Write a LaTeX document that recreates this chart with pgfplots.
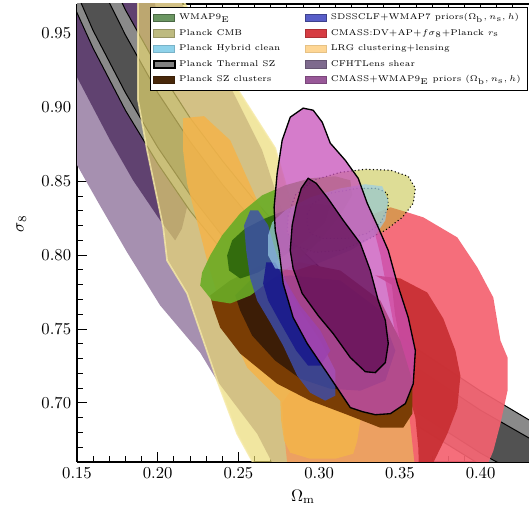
\documentclass[border=0pt]{standalone}
\usepackage{pgfplots}
\pgfplotsset{compat=1.18}
\definecolor{cfhtout}{RGB}{166,144,176}
\definecolor{cfhtin}{RGB}{96,66,112}
\definecolor{szout}{RGB}{138,138,138}
\definecolor{szin}{RGB}{82,82,82}
\definecolor{band}{RGB}{234,218,113}
\definecolor{bandline}{RGB}{246,234,168}
\definecolor{peach}{RGB}{236,160,98}
\definecolor{orng}{RGB}{244,180,74}
\definecolor{pinkout}{RGB}{244,98,112}
\definecolor{redin}{RGB}{200,46,50}
\definecolor{brownout}{RGB}{122,61,4}
\definecolor{brownin}{RGB}{60,29,6}
\definecolor{greenout}{RGB}{106,172,38}
\definecolor{greenin}{RGB}{44,102,10}
\definecolor{blueout}{RGB}{60,78,176}
\definecolor{bluein}{RGB}{26,26,140}
\definecolor{kh}{RGB}{189,187,45}
\definecolor{hyb}{RGB}{155,206,232}
\definecolor{magout}{RGB}{199,80,186}
\definecolor{magin}{RGB}{90,8,78}
% legend colours
\definecolor{lgwmap}{RGB}{107,150,98}
\definecolor{lgcmb}{RGB}{189,186,128}
\definecolor{lghyb}{RGB}{142,210,234}
\definecolor{lgsz}{RGB}{128,128,128}
\definecolor{lgszc}{RGB}{72,40,10}
\definecolor{lgsdss}{RGB}{88,94,200}
\definecolor{lgcmass}{RGB}{214,60,66}
\definecolor{lglrg}{RGB}{254,214,148}
\definecolor{lgcfht}{RGB}{126,106,142}
\definecolor{lgcw}{RGB}{152,88,152}
\begin{document}
\begin{tikzpicture}
\begin{axis}[
  name=ax,
  scale only axis,
  width=271.2pt, height=274.8pt,
  xmin=0.15, xmax=0.43, ymin=0.66, ymax=0.97,
  axis x line*=box, axis y line*=left,
  axis line style={line width=0.9pt,-},
  xtick={0.15,0.20,0.25,0.30,0.35,0.40},
  ytick={0.70,0.75,0.80,0.85,0.90,0.95},
  minor xtick={0.16,0.17,0.18,0.19,0.21,0.22,0.23,0.24,0.26,0.27,0.28,0.29,0.31,0.32,0.33,0.34,0.36,0.37,0.38,0.39,0.41,0.42},
  minor ytick={0.66,0.67,0.68,0.69,0.71,0.72,0.73,0.74,0.76,0.77,0.78,0.79,0.81,0.82,0.83,0.84,0.86,0.87,0.88,0.89,0.91,0.92,0.93,0.94,0.96},
  tick align=inside, major tick length=6pt, minor tick length=3.5pt,
  every tick/.style={black, line width=0.6pt},
  xticklabel style={/pgf/number format/.cd,fixed,fixed zerofill,precision=2},
  yticklabel style={/pgf/number format/.cd,fixed,fixed zerofill,precision=2},
  xlabel={$\Omega_{\rm m}$}, ylabel={$\sigma_8$},
  every axis x label/.style={at={(rel axis cs:0.5,-0.0764)}, anchor=center},
  every axis y label/.style={at={(rel axis cs:-0.1235,0.52)}, anchor=center, rotate=90},
  legend columns=2, legend cell align=left,
  legend image code/.code={\draw[#1] (0pt,-2.2pt) rectangle (12.6pt,2.2pt);},
  legend style={at={(rel axis cs:0.997,0.994)}, anchor=north east, font=\tiny,
     draw=black, line width=0.6pt, fill=white, inner sep=1.8pt, row sep=0.2pt,
     /tikz/every even column/.append style={column sep=13pt}},
  poly/.style={forget plot, draw=none},
]
% CFHTLens outer
\addplot[poly, fill=cfhtout] coordinates {(0.140,0.990)(0.140,0.870)(0.150,0.861)(0.164,0.834)(0.181,0.802)(0.2015,0.766)(0.2263,0.734)(0.2368,0.715)(0.2616,0.6791)(0.2709,0.6595)(0.273,0.650)(0.2815,0.650)(0.2802,0.6595)(0.2821,0.7015)(0.2852,0.7693)(0.2790,0.8236)(0.2647,0.8710)(0.2430,0.9185)(0.2150,0.970)(0.2120,0.990)} -- cycle;
% CFHTLens inner
\addplot[poly, fill=cfhtin] coordinates {(0.140,0.990)(0.140,0.930)(0.150,0.9205)(0.1705,0.8778)(0.1847,0.8507)(0.2015,0.8236)(0.2108,0.810)(0.2150,0.818)(0.2220,0.850)(0.2150,0.880)(0.2090,0.910)(0.2030,0.940)(0.1984,0.970)(0.1960,0.990)} -- cycle;
% Planck thermal SZ outer
\addplot[forget plot, fill=szout, draw=black, line width=0.6pt] coordinates {(0.14,0.990)(0.15,0.964)(0.16,0.940)(0.18,0.898)(0.20,0.862)(0.22,0.830)(0.24,0.803)(0.26,0.778)(0.28,0.756)(0.30,0.736)(0.33,0.709)(0.36,0.685)(0.40,0.658)(0.44,0.634)(0.44,0.682)(0.40,0.708)(0.36,0.737)(0.33,0.763)(0.30,0.792)(0.28,0.813)(0.26,0.837)(0.24,0.864)(0.22,0.893)(0.20,0.927)(0.18,0.966)(0.16,1.012)(0.15,1.037)(0.14,1.066)} -- cycle;
% Planck thermal SZ inner
\addplot[forget plot, fill=szin, draw=black, line width=0.6pt] coordinates {(0.14,1.003)(0.15,0.977)(0.16,0.952)(0.18,0.910)(0.20,0.873)(0.22,0.841)(0.24,0.813)(0.26,0.788)(0.28,0.766)(0.30,0.745)(0.33,0.718)(0.36,0.694)(0.40,0.666)(0.44,0.642)(0.44,0.670)(0.40,0.695)(0.36,0.724)(0.33,0.749)(0.30,0.777)(0.28,0.798)(0.26,0.822)(0.24,0.848)(0.22,0.877)(0.20,0.910)(0.18,0.949)(0.16,0.993)(0.15,1.019)(0.14,1.046)} -- cycle;
% big degeneracy band (translucent)
\addplot[forget plot, fill=band, fill opacity=0.67, draw=bandline, draw opacity=0.8, line width=1pt] coordinates {(0.187,0.990)(0.1878,0.970)(0.1878,0.932)(0.1878,0.905)(0.1934,0.871)(0.2034,0.8188)(0.2058,0.7964)(0.2182,0.7741)(0.2368,0.7151)(0.2492,0.6791)(0.2591,0.6595)(0.2625,0.650)(0.300,0.650)(0.295,0.700)(0.290,0.750)(0.286,0.800)(0.2821,0.8371)(0.2728,0.8724)(0.2498,0.9117)(0.2294,0.9456)(0.2170,0.970)(0.212,0.990)} -- cycle;
% LRG outer (peach)
\addplot[poly, fill=peach] coordinates {(0.279,0.650)(0.2802,0.6595)(0.2777,0.686)(0.2771,0.700)(0.290,0.720)(0.330,0.720)(0.355,0.710)(0.362,0.690)(0.3614,0.650)} -- cycle;
% LRG inner (orange)
\addplot[poly, fill=orng, fill opacity=0.85] coordinates {(0.2157,0.8927)(0.2287,0.8941)(0.2449,0.8778)(0.2616,0.8371)(0.2821,0.7964)(0.3069,0.7558)(0.3255,0.7286)(0.3255,0.6879)(0.3236,0.6744)(0.3211,0.6656)(0.3100,0.6622)(0.2945,0.6622)(0.2821,0.6663)(0.2783,0.6744)(0.2765,0.6879)(0.2759,0.7015)(0.2554,0.7239)(0.2418,0.7558)(0.2306,0.7964)(0.2263,0.8147)(0.2182,0.8486)(0.2157,0.8710)} -- cycle;
% CMASS DV+AP outer (pink)
\addplot[poly, fill=pinkout, fill opacity=0.92] coordinates {(0.3317,0.8269)(0.3441,0.8324)(0.3546,0.8290)(0.3645,0.8256)(0.3856,0.8120)(0.3980,0.7917)(0.4079,0.7713)(0.4123,0.7422)(0.4167,0.7307)(0.4167,0.7083)(0.4123,0.6859)(0.4079,0.6676)(0.4048,0.6595)(0.403,0.650)(0.360,0.650)(0.355,0.700)(0.345,0.760)(0.338,0.800)} -- cycle;
% CMASS DV+AP inner (red)
\addplot[poly, fill=redin, fill opacity=0.92] coordinates {(0.3348,0.7863)(0.3503,0.7842)(0.3670,0.7747)(0.3769,0.7571)(0.3844,0.7354)(0.3875,0.7184)(0.3856,0.6968)(0.3794,0.6791)(0.3707,0.6595)(0.367,0.650)(0.362,0.650)(0.3614,0.670)(0.3596,0.690)(0.357,0.700)(0.352,0.730)(0.347,0.760)(0.345,0.780)} -- cycle;
% Planck SZ clusters outer
\addplot[poly, fill=brownout] coordinates {(0.2325,0.7727)(0.2343,0.7646)(0.2387,0.7510)(0.2511,0.7334)(0.2740,0.7130)(0.2945,0.7015)(0.3174,0.6920)(0.3379,0.6832)(0.3521,0.6832)(0.3577,0.6927)(0.3577,0.7151)(0.3503,0.7422)(0.3379,0.7693)(0.3131,0.7896)(0.2883,0.7951)(0.2635,0.7930)(0.2449,0.7829)} -- cycle;
% Planck SZ clusters inner
\addplot[poly, fill=brownin] coordinates {(0.2480,0.7727)(0.2511,0.7625)(0.2585,0.7456)(0.2728,0.7286)(0.2883,0.7164)(0.3069,0.7096)(0.3255,0.7083)(0.3410,0.7151)(0.3472,0.7354)(0.3379,0.7625)(0.3131,0.7829)(0.2821,0.7863)(0.2573,0.7829)} -- cycle;
% WMAP9 outer
\addplot[poly, fill=greenout, fill opacity=0.9] coordinates {(0.2263,0.7795)(0.2275,0.7883)(0.2325,0.7998)(0.2399,0.8134)(0.2511,0.8283)(0.2647,0.8405)(0.2790,0.8473)(0.2945,0.8520)(0.3100,0.8534)(0.3193,0.8507)(0.3205,0.8405)(0.3131,0.8269)(0.3007,0.8100)(0.2852,0.7951)(0.2697,0.7829)(0.2573,0.7727)(0.2449,0.7673)(0.2337,0.7693)} -- cycle;
% WMAP9 inner
\addplot[poly, fill=greenin, fill opacity=0.9] coordinates {(0.2430,0.7998)(0.2461,0.8100)(0.2542,0.8181)(0.2666,0.8249)(0.2821,0.8317)(0.2976,0.8351)(0.3069,0.8337)(0.3038,0.8222)(0.2914,0.8100)(0.2759,0.7978)(0.2622,0.7883)(0.2511,0.7842)(0.2442,0.7896)} -- cycle;
% SDSSCLF outer
\addplot[poly, fill=blueout, fill opacity=0.8] coordinates {(0.2573,0.8303)(0.2622,0.8303)(0.2684,0.8202)(0.2728,0.8032)(0.2790,0.7829)(0.2883,0.7625)(0.3007,0.7422)(0.3100,0.7218)(0.3100,0.7049)(0.3038,0.7015)(0.2945,0.7069)(0.2864,0.7184)(0.2777,0.7388)(0.2697,0.7544)(0.2616,0.7693)(0.2573,0.7842)(0.2548,0.8032)(0.2535,0.8202)} -- cycle;
% SDSSCLF inner
\addplot[poly, fill=bluein, fill opacity=0.9] coordinates {(0.2672,0.7951)(0.2728,0.7951)(0.2790,0.7829)(0.2883,0.7659)(0.3007,0.7490)(0.3069,0.7354)(0.3007,0.7252)(0.2932,0.7252)(0.2858,0.7354)(0.2759,0.7544)(0.2684,0.7693)(0.2653,0.7808)} -- cycle;
% Planck CMB outer (dotted)
\addplot[forget plot, fill=kh, fill opacity=0.5, draw=black, line width=0.9pt, line cap=round, dash pattern=on 0pt off 2.2pt] coordinates {(0.2808,0.8269)(0.2852,0.8405)(0.2963,0.8507)(0.3131,0.8561)(0.3286,0.8581)(0.3441,0.8575)(0.3552,0.8534)(0.3596,0.8452)(0.3583,0.8351)(0.3515,0.8256)(0.3410,0.8168)(0.3286,0.8100)(0.3131,0.8032)(0.2976,0.8019)(0.2852,0.8066)(0.2802,0.8154)} -- cycle;
% Planck CMB inner (dotted)
\addplot[forget plot, fill=kh, fill opacity=0.5, draw=black, line width=0.9pt, line cap=round, dash pattern=on 0pt off 2.2pt] coordinates {(0.2926,0.8283)(0.2963,0.8351)(0.3069,0.8419)(0.3236,0.8452)(0.3360,0.8452)(0.3422,0.8419)(0.3428,0.8324)(0.3379,0.8215)(0.3298,0.8147)(0.3174,0.8113)(0.3025,0.8113)(0.2945,0.8147)(0.2926,0.8215)} -- cycle;
% Planck hybrid clean
\addplot[poly, fill=hyb, fill opacity=0.7] coordinates {(0.2684,0.8134)(0.2709,0.8222)(0.2790,0.8303)(0.2945,0.8391)(0.3131,0.8452)(0.3286,0.8480)(0.3391,0.8466)(0.3428,0.8371)(0.3410,0.8236)(0.3348,0.8134)(0.3193,0.8032)(0.3007,0.7951)(0.2852,0.7896)(0.2728,0.7910)(0.2684,0.7998)} -- cycle;
% CMASS+WMAP9 outer
\addplot[forget plot, fill=magout, fill opacity=0.75, draw=black, line width=0.8pt] coordinates {(0.2901,0.8995)(0.2963,0.8981)(0.3019,0.8900)(0.3069,0.8758)(0.3162,0.8642)(0.3242,0.8520)(0.3298,0.8351)(0.3366,0.8188)(0.3428,0.8032)(0.3484,0.7808)(0.3552,0.7578)(0.3596,0.7354)(0.3583,0.7130)(0.3534,0.6995)(0.3441,0.6927)(0.3348,0.6920)(0.3267,0.6941)(0.3193,0.6968)(0.3069,0.7171)(0.2926,0.7402)(0.2839,0.7578)(0.2777,0.7808)(0.2752,0.8032)(0.2728,0.8168)(0.2721,0.8324)(0.2740,0.8554)(0.2771,0.8778)(0.2821,0.8934)} -- cycle;
% CMASS+WMAP9 inner
\addplot[forget plot, fill=magin, fill opacity=0.7, draw=black, line width=0.8pt] coordinates {(0.2932,0.8520)(0.2982,0.8486)(0.3050,0.8391)(0.3149,0.8236)(0.3255,0.8080)(0.3317,0.7896)(0.3366,0.7693)(0.3410,0.7558)(0.3428,0.7402)(0.3410,0.7273)(0.3348,0.7205)(0.3286,0.7211)(0.3193,0.7307)(0.3087,0.7469)(0.2994,0.7591)(0.2895,0.7741)(0.2839,0.7910)(0.2821,0.8032)(0.2833,0.8202)(0.2858,0.8337)(0.2889,0.8452)} -- cycle;
% legend
\addlegendimage{fill=lgwmap, draw=lgwmap!70!black}
\addlegendentry{WMAP9$_{\rm E}$}
\addlegendimage{fill=lgsdss, draw=lgsdss!70!black}
\addlegendentry{SDSSCLF+WMAP7 priors$(\Omega_{\rm b},n_{\rm s},h)$}
\addlegendimage{fill=lgcmb, draw=lgcmb!80!black}
\addlegendentry{Planck CMB}
\addlegendimage{fill=lgcmass, draw=lgcmass!80!black}
\addlegendentry{CMASS:DV+AP+$f\sigma_8$+Planck $r_{\rm s}$}
\addlegendimage{fill=lghyb, draw=lghyb!85!black}
\addlegendentry{Planck Hybrid clean}
\addlegendimage{fill=lglrg, draw=lglrg!90!black}
\addlegendentry{LRG clustering+lensing}
\addlegendimage{fill=lgsz, draw=black, line width=1pt}
\addlegendentry{Planck Thermal SZ}
\addlegendimage{fill=lgcfht, draw=lgcfht!80!black}
\addlegendentry{CFHTLens shear}
\addlegendimage{fill=lgszc, draw=lgszc!80!black}
\addlegendentry{Planck SZ clusters}
\addlegendimage{fill=lgcw, draw=lgcw!80!black}
\addlegendentry{CMASS+WMAP9$_{\rm E}$ priors $(\Omega_{\rm b},n_{\rm s},h)$}
\end{axis}
\pgfresetboundingbox
\path[use as bounding box] ([xshift=-46.2pt,yshift=-26.4pt]ax.south west) rectangle ([yshift=2.4pt]ax.north east);
\end{tikzpicture}
\end{document}
